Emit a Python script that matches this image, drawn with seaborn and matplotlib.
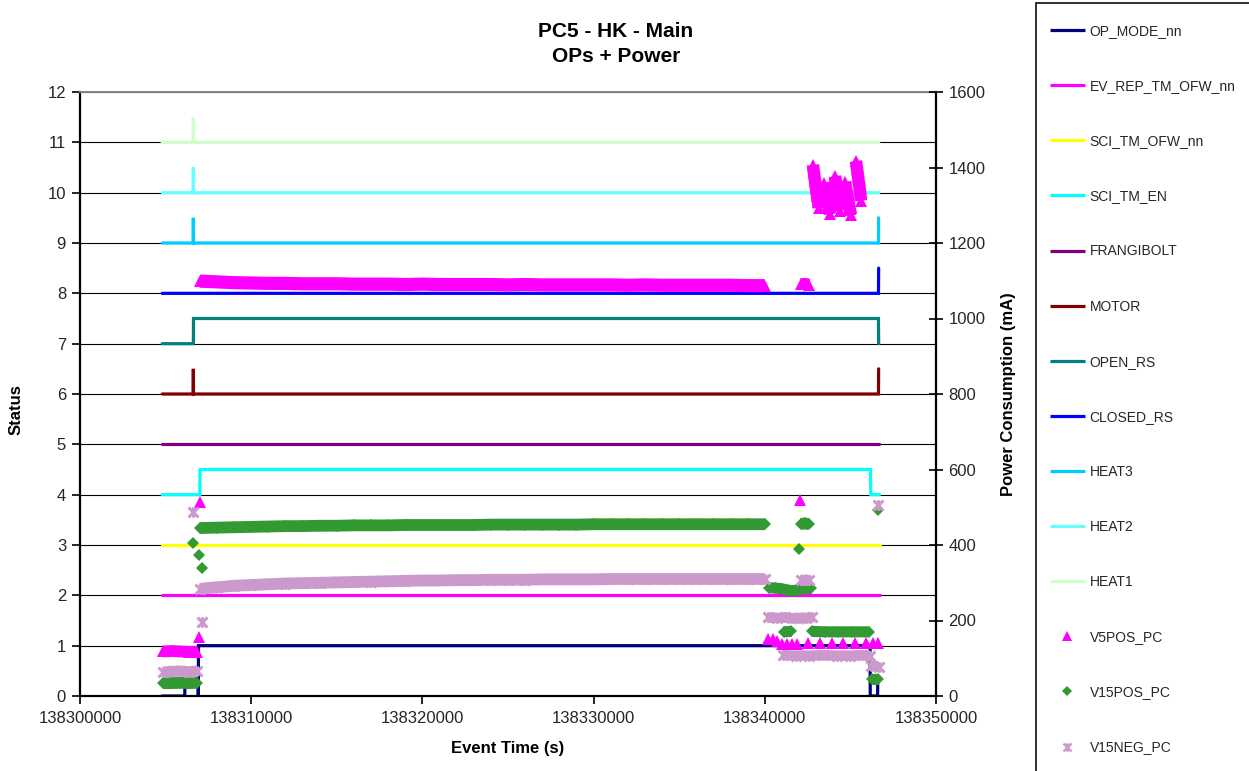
import numpy as np
import matplotlib
matplotlib.use("Agg")
import matplotlib.pyplot as plt
import seaborn as sns
from matplotlib.path import Path
from matplotlib.lines import Line2D
from matplotlib.patches import Rectangle

sns.set_theme(style="white")
plt.rcParams['font.family'] = ['Liberation Sans', 'DejaVu Sans']

# ---------------- status lines (left axis) ----------------
OP_MODE_T = [138304800, 138306120, 138306130, 138306900, 138306910, 138306920,
             138346150, 138346160, 138346590, 138346600]
OP_MODE_V = [0, 0, 0.3, 0.3, 0, 1, 1, 0, 0, 0.4]
EV_REP_T = [138304800, 138346700]
EV_REP_V = [2, 2]
SCI_OFW_T = [138304800, 138346700]
SCI_OFW_V = [3, 3]
SCI_EN_T = [138304800, 138307000, 138307010, 138346180, 138346190, 138346700]
SCI_EN_V = [4, 4, 4.5, 4.5, 4, 4]
FRANGI_T = [138304800, 138346650]
FRANGI_V = [5, 5]
MOTOR_T = [138304800, 138306610, 138306620, 138306630, 138346640, 138346650]
MOTOR_V = [6, 6, 6.5, 6, 6, 6.5]
OPEN_RS_T = [138304800, 138306620, 138306630, 138346640, 138346650]
OPEN_RS_V = [7, 7, 7.5, 7.5, 7]
CLOSED_RS_T = [138304800, 138346640, 138346650]
CLOSED_RS_V = [8, 8, 8.5]
HEAT3_T = [138304800, 138306610, 138306620, 138306630, 138346640, 138346650]
HEAT3_V = [9, 9, 9.5, 9, 9, 9.5]
HEAT2_T = [138304800, 138306610, 138306620, 138306630, 138346650]
HEAT2_V = [10, 10, 10.5, 10, 10]
HEAT1_T = [138304800, 138306610, 138306620, 138306630, 138346650]
HEAT1_V = [11, 11, 11.5, 11, 11]

# ---------------- power consumption (right axis, mA) ----------------
MAIN_T = list(range(138307000, 138340001, 1000))
V5POS_MAIN = [1099, 1097, 1095, 1094, 1093, 1093, 1092, 1092, 1092, 1091,
              1091, 1091, 1090, 1091, 1090, 1090, 1090, 1090, 1089, 1090,
              1089, 1089, 1089, 1089, 1089, 1088, 1089, 1088, 1088, 1088,
              1088, 1088, 1087, 1087]
V15POS_MAIN = [445, 446, 447, 448, 449, 450, 450, 451, 451, 452,
               452, 452, 453, 453, 453, 453, 453, 454, 454, 454,
               454, 454, 454, 455, 455, 455, 455, 455, 455, 455,
               455, 455, 455, 455]
V15NEG_MAIN = [284, 288, 292, 294, 296, 298, 299, 300, 301, 302,
               303, 304, 305, 306, 306, 307, 307, 308, 308, 308,
               309, 309, 309, 309, 310, 310, 310, 310, 310, 310,
               310, 310, 310, 310]

START_T = [138304850, 138305350, 138305850, 138306350, 138306850]
V5POS_START = [118, 119, 118, 117, 117]
V15POS_START = [34, 34, 35, 34, 35]
V15NEG_START = [63, 65, 66, 64, 66]

# isolated readings
V5POS_ISO_T = [138306950, 138307010, 138342055]
V5POS_ISO_V = [156, 515, 519]
V15POS_ISO_T = [138306620, 138306980, 138307130, 138342000, 138346620]
V15POS_ISO_V = [405, 373, 339, 389, 493]
V15NEG_ISO_T = [138306600, 138307130, 138346620]
V15NEG_ISO_V = [488, 196, 506]

# end-of-run clusters
CLUSTER_T = [138342100, 138342350, 138342580]
V5POS_CLUSTER = [1091, 1092, 1090]
V15POS_CLUSTER = [456, 457, 455]
V15NEG_CLUSTER = [307, 306, 308]

# V5POS high-current bursts (five columns)
V5POS_BURSTS_T = [
    [138342815, 138342870, 138342930, 138342990, 138343050, 138343110, 138343165],
    [138343475, 138343540, 138343610, 138343680, 138343750, 138343808],
    [138344100, 138344160, 138344220, 138344280, 138344340, 138344392],
    [138344684, 138344750, 138344820, 138344890, 138344960, 138345035],
    [138345326, 138345390, 138345450, 138345510, 138345570, 138345618],
]
V5POS_BURSTS_V = [
    [1407, 1385, 1365, 1345, 1325, 1308, 1294],
    [1360, 1343, 1326, 1309, 1292, 1277],
    [1377, 1359, 1341, 1323, 1305, 1286],
    [1362, 1344, 1326, 1308, 1290, 1274],
    [1417, 1396, 1375, 1354, 1333, 1312],
]

# V5POS low level at end of run
V5POS_LOW_T = [138340200, 138340450, 138340700, 138341000, 138341300, 138341600,
               138341900, 138342522, 138343223, 138343924, 138344566, 138345267,
               138345910, 138346319, 138346611]
V5POS_LOW_V = [151, 150, 147, 139, 138, 138, 139, 140, 140, 140, 140, 140, 140, 141, 141]

# V15POS end levels
V15POS_E1_T = [138340250, 138340600, 138341000, 138341350, 138341700, 138342050, 138342400, 138342700]
V15POS_E1_V = [287, 286, 284, 280, 279, 283, 284, 285]
V15POS_E2_T = [138341100, 138341550]
V15POS_E2_V = [170, 171]
V15POS_E3_T = [138342750, 138343500, 138344300, 138345100, 138346080]
V15POS_E3_V = [171, 170, 170, 170, 170]
V15POS_E4_T = [138346250, 138346600]
V15POS_E4_V = [45, 45]

# V15NEG end levels
V15NEG_E1_T = [138340200, 138340700, 138341200, 138341600, 138342000, 138342400, 138342750]
V15NEG_E1_V = [208, 207, 208, 206, 207, 207, 208]
V15NEG_E2_T = [138341060, 138341800, 138342600, 138343400, 138344200, 138345000, 138345700, 138346140]
V15NEG_E2_V = [108, 107, 107, 108, 107, 107, 108, 107]
V15NEG_E3_T = [138346200, 138346650]
V15NEG_E3_V = [80, 78]

X_TICKS = [138300000, 138310000, 138320000, 138330000, 138340000, 138350000]
X_TICK_LABELS = ["138300000", "138310000", "138320000", "138330000", "138340000", "138350000"]
Y_TICKS = list(range(0, 13))
Y2_TICKS = list(range(0, 1601, 200))

# ---------------- styles ----------------
C_OP = "#000080"; C_EV = "#FF00FF"; C_OFW = "#FFFF00"; C_EN = "#00FFFF"
C_FRANGI = "#800080"; C_MOTOR = "#800000"; C_OPEN = "#008080"; C_CLOSED = "#0000FF"
C_H3 = "#00CCFF"; C_H2 = "#66FFFF"; C_H1 = "#CCFFCC"
C_V5 = "#FF00FF"; C_V15P = "#339933"; C_V15N = "#CC99CC"

STAR = Path([(-1, -1), (1, 1), (-1, 1), (1, -1), (0, -1.05), (0, 1.05)],
            [Path.MOVETO, Path.LINETO, Path.MOVETO, Path.LINETO, Path.MOVETO, Path.LINETO])

fig = plt.figure(figsize=(12.49, 7.71), dpi=100)
fig.patch.set_facecolor("white")
ax = fig.add_axes([80 / 1249, 75 / 771, 856 / 1249, 604 / 771])
ax.set_facecolor("white")

status = [
    ("OP_MODE_nn", OP_MODE_T, OP_MODE_V, C_OP),
    ("EV_REP_TM_OFW_nn", EV_REP_T, EV_REP_V, C_EV),
    ("SCI_TM_OFW_nn", SCI_OFW_T, SCI_OFW_V, C_OFW),
    ("SCI_TM_EN", SCI_EN_T, SCI_EN_V, C_EN),
    ("FRANGIBOLT", FRANGI_T, FRANGI_V, C_FRANGI),
    ("MOTOR", MOTOR_T, MOTOR_V, C_MOTOR),
    ("OPEN_RS", OPEN_RS_T, OPEN_RS_V, C_OPEN),
    ("CLOSED_RS", CLOSED_RS_T, CLOSED_RS_V, C_CLOSED),
    ("HEAT3", HEAT3_T, HEAT3_V, C_H3),
    ("HEAT2", HEAT2_T, HEAT2_V, C_H2),
    ("HEAT1", HEAT1_T, HEAT1_V, C_H1),
]
for name, t, v, c in status:
    sns.lineplot(x=t, y=v, ax=ax, color=c, linewidth=2.3, sort=False, estimator=None,
                 legend=False, solid_capstyle="round", solid_joinstyle="miter")

ax.set_xlim(138300000, 138350000)
ax.set_ylim(0, 12)
ax.set_xticks(X_TICKS)
ax.set_xticklabels(X_TICK_LABELS)
ax.set_yticks(Y_TICKS)
ax.yaxis.grid(True, color="black", linewidth=0.8)
ax.xaxis.grid(False)
ax.set_axisbelow(True)
ax.tick_params(axis="y", direction="out", length=6, width=1.2, labelsize=12, pad=4, left=True, color="black")
ax.tick_params(axis="x", direction="out", length=6, width=1.2, labelsize=12, pad=5, bottom=True, color="black")
for s in ["left", "bottom", "right"]:
    ax.spines[s].set_color("black")
    ax.spines[s].set_linewidth(1.6)
ax.spines["top"].set_color("#808080")
ax.spines["top"].set_linewidth(1.4)
ax.set_xlabel("Event Time (s)", fontsize=12, fontweight="bold", color="black")
ax.set_ylabel("Status", fontsize=12, fontweight="bold", color="black")
ax.xaxis.set_label_coords(0.5, -0.075)
ax.yaxis.set_label_coords(-0.066, 0.475)

ax2 = ax.twinx()
ax2.set_ylim(0, 1600)
ax2.set_yticks(Y2_TICKS)
ax2.tick_params(axis="y", direction="inout", length=10, width=1.2, labelsize=12, pad=4, right=True, color="black")
ax2.set_ylabel("Power Consumption (mA)", fontsize=12, fontweight="bold", color="black")
ax2.yaxis.set_label_coords(1.076, 0.5)
ax2.grid(False)
for s in ax2.spines.values():
    s.set_visible(False)


def band(t, v, color, marker, ms, lw, star=False):
    kw = dict(color=color, lw=lw, marker=marker, ms=ms, solid_capstyle="butt",
              solid_joinstyle="round")
    if star:
        kw.update(mfc="none", mec=color, mew=2.2)
    else:
        kw.update(mfc=color, mec=color, mew=0)
    ax2.plot(t, v, **kw)


def dots(t, v, color, marker, ms, star=False):
    kw = dict(color=color, ls="none", marker=marker, ms=ms)
    if star:
        kw.update(mfc="none", mec=color, mew=2.2)
    else:
        kw.update(mfc=color, mec=color, mew=0)
    ax2.plot(t, v, **kw)


# V5POS
band(START_T, V5POS_START, C_V5, "^", 8.5, 8.5)
band(MAIN_T, V5POS_MAIN, C_V5, "^", 8.5, 9.5)
band(CLUSTER_T, V5POS_CLUSTER, C_V5, "^", 8.5, 8.5)
for bt, bv in zip(V5POS_BURSTS_T, V5POS_BURSTS_V):
    band(bt, bv, C_V5, "^", 8.5, 9.0)
dots(V5POS_LOW_T, V5POS_LOW_V, C_V5, "^", 8.5)
dots(V5POS_ISO_T, V5POS_ISO_V, C_V5, "^", 8.5)

# V15POS
band(START_T, V15POS_START, C_V15P, "D", 6.3, 8.5)
band(MAIN_T, V15POS_MAIN, C_V15P, "D", 6.3, 8.5)
band(CLUSTER_T, V15POS_CLUSTER, C_V15P, "D", 6.3, 8.5)
band(V15POS_E1_T, V15POS_E1_V, C_V15P, "D", 6.3, 8.0)
band(V15POS_E2_T, V15POS_E2_V, C_V15P, "D", 6.3, 8.0)
band(V15POS_E3_T, V15POS_E3_V, C_V15P, "D", 6.3, 8.0)
band(V15POS_E4_T, V15POS_E4_V, C_V15P, "D", 6.3, 8.0)
dots(V15POS_ISO_T, V15POS_ISO_V, C_V15P, "D", 6.3)

# V15NEG
band(START_T, V15NEG_START, C_V15N, STAR, 7.5, 8.0, star=True)
band(MAIN_T, V15NEG_MAIN, C_V15N, STAR, 7.5, 8.5, star=True)
band(CLUSTER_T, V15NEG_CLUSTER, C_V15N, STAR, 7.5, 8.0, star=True)
band(V15NEG_E1_T, V15NEG_E1_V, C_V15N, STAR, 7.5, 7.5, star=True)
band(V15NEG_E2_T, V15NEG_E2_V, C_V15N, STAR, 7.5, 7.5, star=True)
band(V15NEG_E3_T, V15NEG_E3_V, C_V15N, STAR, 7.5, 7.5, star=True)
dots(V15NEG_ISO_T, V15NEG_ISO_V, C_V15N, STAR, 7.5, star=True)

# title
fig.text(616 / 1249, 1 - 44 / 771, "PC5 - HK - Main\nOPs + Power", ha="center", va="center",
         fontsize=15, fontweight="bold", linespacing=1.45, color="black")

# legend
handles = [Line2D([0], [0], color=c, lw=2.3, solid_capstyle="butt") for _, _, _, c in status]
labels = [n for n, _, _, _ in status]
handles += [
    Line2D([0], [0], ls="none", marker="^", color=C_V5, ms=6.5, mew=0),
    Line2D([0], [0], ls="none", marker="D", color=C_V15P, ms=4.8, mew=0),
    Line2D([0], [0], ls="none", marker=STAR, mfc="none", mec=C_V15N, ms=6, mew=1.8),
]
labels += ["V5POS_PC", "V15POS_PC", "V15NEG_PC"]
fig.legend(handles, labels, loc="upper left", bbox_to_anchor=(1050 / 1249, 1 - 24 / 771),
           frameon=False, fontsize=10, handlelength=2.5, handletextpad=0.35,
           labelspacing=2.96, borderpad=0, borderaxespad=0)
fig.add_artist(Rectangle((1036 / 1249, -0.02), 0.3, 1.02 - 3 / 771, transform=fig.transFigure,
                         fill=False, edgecolor="#202020", linewidth=1.3))

fig.savefig("out.png", dpi=100)
